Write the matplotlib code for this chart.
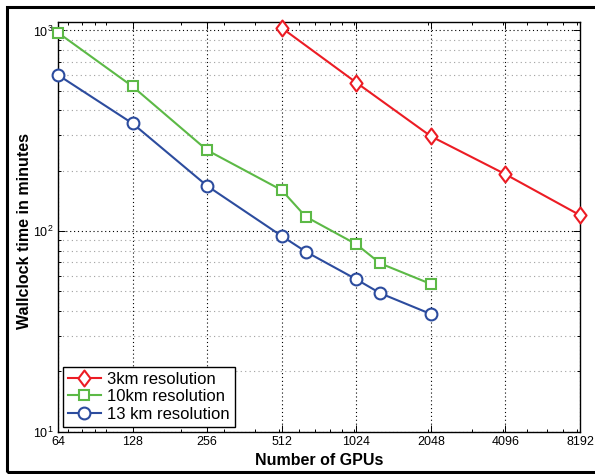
import numpy as np
import matplotlib
matplotlib.use("Agg")
import matplotlib.pyplot as plt
from matplotlib.path import Path
from matplotlib.patches import Rectangle
from matplotlib.ticker import FixedLocator, NullFormatter, LogLocator

plt.rcParams['font.family'] = ['Liberation Sans', 'DejaVu Sans']
plt.rcParams['mathtext.fontset'] = 'custom'
plt.rcParams['mathtext.rm'] = 'Liberation Sans'

# data
gpus_3km = [512, 1024, 2048, 4096, 8192]
time_3km = [1030, 550, 297, 192, 120]

gpus_10km = [64, 128, 256, 512, 640, 1024, 1280, 2048]
time_10km = [975, 526, 253, 160, 118, 86, 69, 54.5]

gpus_13km = [64, 128, 256, 512, 640, 1024, 1280, 2048]
time_13km = [600, 344, 168, 94.5, 79, 57.5, 49, 38.6]

xticks = [64, 128, 256, 512, 1024, 2048, 4096, 8192]

red = '#ec1c24'
green = '#5cb946'
blue = '#2c4c9e'

# MATLAB-like diamond (a bit taller than wide)
diamond = Path([(0, 1), (0.76, 0), (0, -1), (-0.76, 0), (0, 1)],
               [Path.MOVETO, Path.LINETO, Path.LINETO, Path.LINETO, Path.CLOSEPOLY])

fig = plt.figure(figsize=(5.95, 4.74), dpi=100)
ax = fig.add_axes([0.0975, 0.0892, 0.8773, 0.865])

ax.plot(gpus_3km, time_3km, color=red, lw=1.5, marker=diamond, ms=11.5,
        mfc='white', mec=red, mew=1.5, label='3km resolution', zorder=3, clip_on=False)
ax.plot(gpus_10km, time_10km, color=green, lw=1.5, marker='s', ms=7.5,
        mfc='white', mec=green, mew=1.5, label='10km resolution', zorder=3, clip_on=False)
ax.plot(gpus_13km, time_13km, color=blue, lw=1.5, marker='o', ms=8.5,
        mfc='white', mec=blue, mew=1.5, label='13 km resolution', zorder=3, clip_on=False)

ax.set_xscale('log')
ax.set_yscale('log')
ax.set_xlim(64, 8192)
ax.set_ylim(10, 1106)

ax.xaxis.set_major_locator(FixedLocator(xticks))
ax.set_xticklabels([str(v) for v in xticks])
ax.xaxis.set_minor_locator(LogLocator(base=10, subs=np.arange(1, 10)))
ax.xaxis.set_minor_formatter(NullFormatter())
ax.yaxis.set_major_locator(FixedLocator([10, 100, 1000]))
ax.yaxis.set_minor_locator(LogLocator(base=10, subs=np.arange(2, 10)))
ax.yaxis.set_minor_formatter(NullFormatter())

ax.tick_params(which='both', direction='in', top=True, right=True,
               labelsize=9, width=0.7, pad=3)
ax.tick_params(which='major', length=5)
ax.tick_params(which='minor', length=2.5)

ax.grid(True, which='major', axis='both', color='k', linestyle=(0, (1, 2.5)), lw=0.8)
ax.grid(True, which='minor', axis='y', color='#a0a0a0', linestyle=(0, (1, 3)), lw=0.8)
ax.set_axisbelow(True)
for sp in ax.spines.values():
    sp.set_linewidth(1.0)

ax.set_xlabel('Number of GPUs', fontsize=11.5, fontweight='bold')
ax.set_ylabel('Wallclock time in minutes', fontsize=11.5, fontweight='bold')
ax.xaxis.set_label_coords(0.5, -0.052)
ax.yaxis.set_label_coords(-0.05, 0.49)

leg = ax.legend(loc='lower left', fontsize=12, fancybox=False, framealpha=1,
                edgecolor='k', borderaxespad=0.3, borderpad=0.3,
                labelspacing=0.15, handlelength=1.95, handletextpad=0.4)
leg.get_frame().set_linewidth(1.0)

# outer frame of the figure (right side is cut off in the original)
fig.add_artist(Rectangle((7.2 / 595, 1.7 / 474), 1.2, 465.0 / 474,
                         transform=fig.transFigure, fill=False,
                         ec='k', lw=2.2, clip_on=False))

fig.savefig('out.png', dpi=100)
